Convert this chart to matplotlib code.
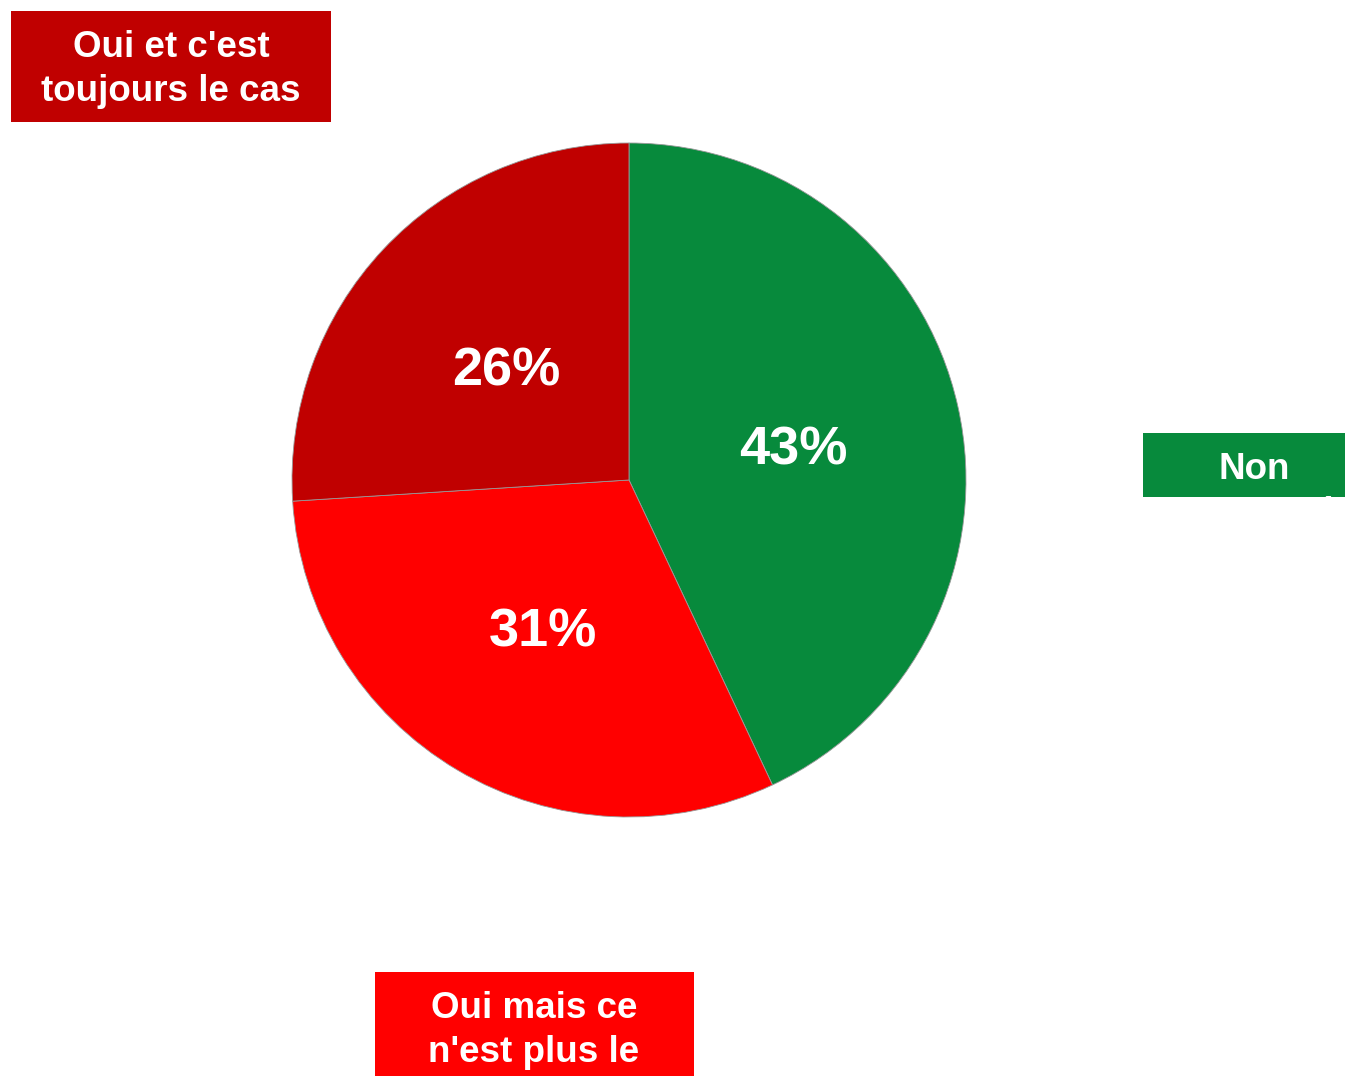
import matplotlib.pyplot as plt
from matplotlib.patches import Rectangle

plt.rcParams['font.family'] = ['Liberation Sans', 'DejaVu Sans']

# Données
categories = ["Non\nconcerné", "Oui mais ce\nn'est plus le", "Oui et c'est\ntoujours le cas"]
values = [43, 31, 26]
colors = ['#078A3C', '#FF0000', '#C00000']

W, H = 1345, 1076

fig = plt.figure(figsize=(W / 100, H / 100), dpi=100)
ax = fig.add_axes([0, 0, 1, 1])

# Camembert (coordonnées en pixels, y vers le haut)
cx, cy, r = 629, H - 480, 337
wedges, _, autotexts = ax.pie(values, colors=colors, startangle=90, counterclock=False,
                              center=(cx, cy), radius=r, autopct='%d%%', pctdistance=0.5,
                              wedgeprops=dict(edgecolor='#999999', linewidth=0.6),
                              textprops=dict(color='white', fontsize=39, fontweight='bold'),
                              frame=True)
for t in autotexts:
    x, y = t.get_position()
    t.set_position((x, y - 7))

ax.set_xlim(0, W)
ax.set_ylim(0, H)
ax.set_aspect('equal')
ax.axis('off')


# Étiquettes dans des boîtes colorées (rognées comme sur l'original)
def label_box(text, color, x0, y0, x1, y1, xtext, ytext):
    rect = Rectangle((x0, H - y1), x1 - x0, y1 - y0, facecolor=color, edgecolor='none')
    ax.add_patch(rect)
    t = ax.text(xtext, H - ytext, text, ha='center', va='top', color='white',
                fontsize=26.5, fontweight='bold', linespacing=1.33)
    t.set_clip_path(rect)


label_box(categories[2], colors[2], 11, 11, 331, 122, 171, 30)
label_box(categories[0], colors[0], 1143, 433, 1345, 497, 1254, 452)
label_box(categories[1], colors[1], 375, 972, 694, 1076, 534, 991)

fig.savefig('out.png', dpi=100)
